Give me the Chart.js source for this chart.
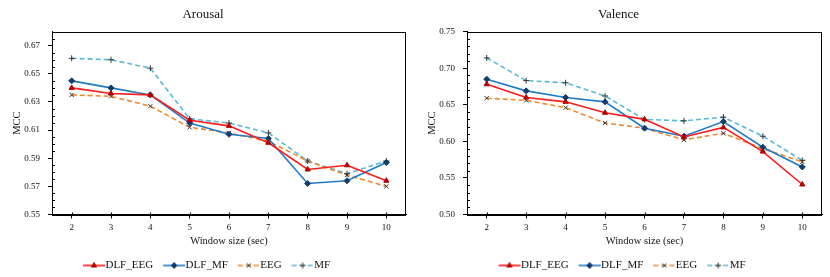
<!DOCTYPE html>
<html>
<head>
<meta charset="utf-8">
<script src="https://cdn.jsdelivr.net/npm/chart.js@4.4.0/dist/chart.umd.min.js"></script>
<style>
body { margin: 0; background: #fff; }
.wrap { display: flex; width: 830px; height: 277px; }
.box { position: relative; width: 415px; height: 277px; }
</style>
</head>
<body>
<div class="wrap">
  <div class="box"><canvas id="arousal"></canvas></div>
  <div class="box"><canvas id="valence"></canvas></div>
</div>
<script>
// Données
const windowSizes = ['2', '3', '4', '5', '6', '7', '8', '9', '10'];
const seriesNames = ['DLF_EEG', 'DLF_MF', 'EEG', 'MF'];

const arousalDlfEeg = [0.640, 0.636, 0.635, 0.617, 0.613, 0.601, 0.582, 0.585, 0.574];
const arousalDlfMf  = [0.645, 0.640, 0.635, 0.615, 0.607, 0.604, 0.572, 0.574, 0.587];
const arousalEeg    = [0.635, 0.634, 0.627, 0.612, 0.608, 0.602, 0.588, 0.578, 0.570];
const arousalMf     = [0.661, 0.660, 0.654, 0.618, 0.615, 0.608, 0.588, 0.579, 0.588];

const valenceDlfEeg = [0.678, 0.660, 0.654, 0.639, 0.630, 0.606, 0.619, 0.586, 0.541];
const valenceDlfMf  = [0.685, 0.669, 0.660, 0.654, 0.618, 0.607, 0.627, 0.592, 0.565];
const valenceEeg    = [0.659, 0.656, 0.646, 0.625, 0.618, 0.602, 0.611, 0.590, 0.572];
const valenceMf     = [0.714, 0.683, 0.680, 0.662, 0.630, 0.628, 0.633, 0.607, 0.574];

const arousalTicks = [0.55, 0.57, 0.59, 0.61, 0.63, 0.65, 0.67];
const valenceTicks = [0.50, 0.55, 0.60, 0.65, 0.70, 0.75];

// Styles des séries
const estilos = [
    { cor: '#ff1a1a', ponto: '#b00000', marcador: 'triangle', traco: [] },
    { cor: '#1f7bc8', ponto: '#123c6b', marcador: 'rectRot', traco: [] },
    { cor: '#f0882e', ponto: '#333333', marcador: 'crossRot', traco: [5, 3] },
    { cor: '#5bb8d8', ponto: '#333333', marcador: 'cross', traco: [5, 3] }
];

const fonte = "'Liberation Serif', 'DejaVu Serif', serif";

// Icône de légende : ligne + marqueur
function criarIcone(estilo) {
    const c = document.createElement('canvas');
    c.width = 46; c.height = 10;
    const ctx = c.getContext('2d');
    ctx.strokeStyle = estilo.cor;
    ctx.lineWidth = 1.6;
    ctx.setLineDash(estilo.traco);
    ctx.beginPath();
    ctx.moveTo(18, 5);
    ctx.lineTo(40, 5);
    ctx.stroke();
    ctx.setLineDash([]);
    ctx.fillStyle = estilo.ponto;
    ctx.strokeStyle = estilo.ponto;
    ctx.lineWidth = 1;
    Chart.helpers.drawPoint(ctx, { pointStyle: estilo.marcador, radius: 3, borderWidth: 1, rotation: 0 }, 29, 5);
    return c;
}
const icones = estilos.map(criarIcone);

// Cadre autour de la zone du graphique
const molduraPlugin = {
    id: 'moldura',
    afterDraw(chart) {
        const { ctx, chartArea: a } = chart;
        ctx.save();
        ctx.strokeStyle = '#000';
        ctx.lineWidth = 1;
        ctx.strokeRect(Math.round(a.left) + 0.5, Math.round(a.top) + 0.5,
            Math.round(a.right - a.left) - 1, Math.round(a.bottom - a.top));
        ctx.restore();
    }
};

// Petites graduations : intermédiaires sur Y, partie intérieure sur X
const menoresPlugin = {
    id: 'menores',
    afterDraw(chart, args, opts) {
        if (!opts || !opts.step) return;
        const y = chart.scales.y;
        const x = chart.scales.x;
        const ctx = chart.ctx;
        const x0 = Math.round(chart.chartArea.left) + 0.5;
        const y0 = Math.round(chart.chartArea.bottom);
        ctx.save();
        ctx.strokeStyle = '#000';
        ctx.lineWidth = 1;
        const n = Math.round((y.max - y.min) / opts.step);
        for (let i = 1; i < n; i++) {
            if (i % opts.each === 0) continue;
            const py = Math.round(y.getPixelForValue(y.min + i * opts.step)) + 0.5;
            ctx.beginPath();
            ctx.moveTo(x0, py);
            ctx.lineTo(x0 + 2.5, py);
            ctx.stroke();
        }
        windowSizes.forEach((_, i) => {
            const px = Math.round(x.getPixelForValue(i)) + 0.5;
            ctx.beginPath();
            ctx.moveTo(px, y0);
            ctx.lineTo(px, y0 - 2.5);
            ctx.stroke();
        });
        ctx.restore();
    }
};

function criarGrafico(id, titulo, series, ticks, yMin, yMax, passoMenor, padDireita) {
    const datasets = series.map((dados, i) => ({
        label: seriesNames[i],
        data: dados,
        borderColor: estilos[i].cor,
        borderWidth: 1.6,
        borderDash: estilos[i].traco,
        pointStyle: estilos[i].marcador,
        pointRadius: 3,
        pointBorderWidth: 1,
        pointBackgroundColor: estilos[i].ponto,
        pointBorderColor: estilos[i].ponto,
        fill: false,
        tension: 0
    }));

    return new Chart(document.getElementById(id), {
        type: 'line',
        data: { labels: windowSizes, datasets: datasets },
        options: {
            responsive: true,
            maintainAspectRatio: false,
            animation: false,
            layout: { padding: { left: 0, right: padDireita, top: 0, bottom: -4 } },
            plugins: {
                title: {
                    display: true,
                    text: titulo,
                    color: '#111',
                    font: { family: fonte, size: 13, weight: 'normal' },
                    padding: { top: 7, bottom: 9 }
                },
                legend: {
                    position: 'bottom',
                    labels: {
                        usePointStyle: true,
                        pointStyleWidth: 24,
                        boxHeight: 10,
                        padding: 3,
                        color: '#111',
                        font: { family: fonte, size: 11 },
                        generateLabels(chart) {
                            return chart.data.datasets.map((ds, i) => ({
                                text: ds.label,
                                pointStyle: icones[i],
                                datasetIndex: i,
                                hidden: false,
                                lineWidth: 0,
                                fontColor: '#111',
                                fillStyle: 'transparent',
                                strokeStyle: 'transparent'
                            }));
                        }
                    }
                },
                tooltip: { enabled: false },
                menores: { step: passoMenor, each: ticks.length > 6 ? 4 : 5 }
            },
            scales: {
                x: {
                    offset: true,
                    afterFit(scale) { scale.height = 42.5; },
                    grid: { display: true, drawOnChartArea: false, tickLength: 4, offset: false, color: '#000' },
                    border: { color: '#000' },
                    ticks: { color: '#111', padding: 4, font: { family: fonte, size: 9 } },
                    title: {
                        display: true,
                        text: 'Window size (sec)',
                        color: '#111',
                        font: { family: fonte, size: 10.5 },
                        padding: { top: 0, bottom: 9 }
                    }
                },
                y: {
                    min: yMin,
                    max: yMax,
                    afterFit(scale) { scale.width = 52; },
                    afterBuildTicks(scale) { scale.ticks = ticks.map(v => ({ value: v })); },
                    grid: { display: true, drawOnChartArea: false, tickLength: 4, color: '#000' },
                    border: { color: '#000' },
                    ticks: {
                        color: '#111',
                        padding: 8,
                        font: { family: fonte, size: 9 },
                        callback: v => v.toFixed(2)
                    },
                    title: {
                        display: true,
                        text: 'MCC',
                        color: '#111',
                        font: { family: fonte, size: 10.5 },
                        padding: { top: 11, bottom: 0 }
                    }
                }
            }
        },
        plugins: [molduraPlugin, menoresPlugin]
    });
}

criarGrafico('arousal', 'Arousal', [arousalDlfEeg, arousalDlfMf, arousalEeg, arousalMf],
    arousalTicks, 0.55, 0.68, 0.005, 9);
criarGrafico('valence', 'Valence', [valenceDlfEeg, valenceDlfMf, valenceEeg, valenceMf],
    valenceTicks, 0.50, 0.75, 0.01, 8);
</script>
</body>
</html>
